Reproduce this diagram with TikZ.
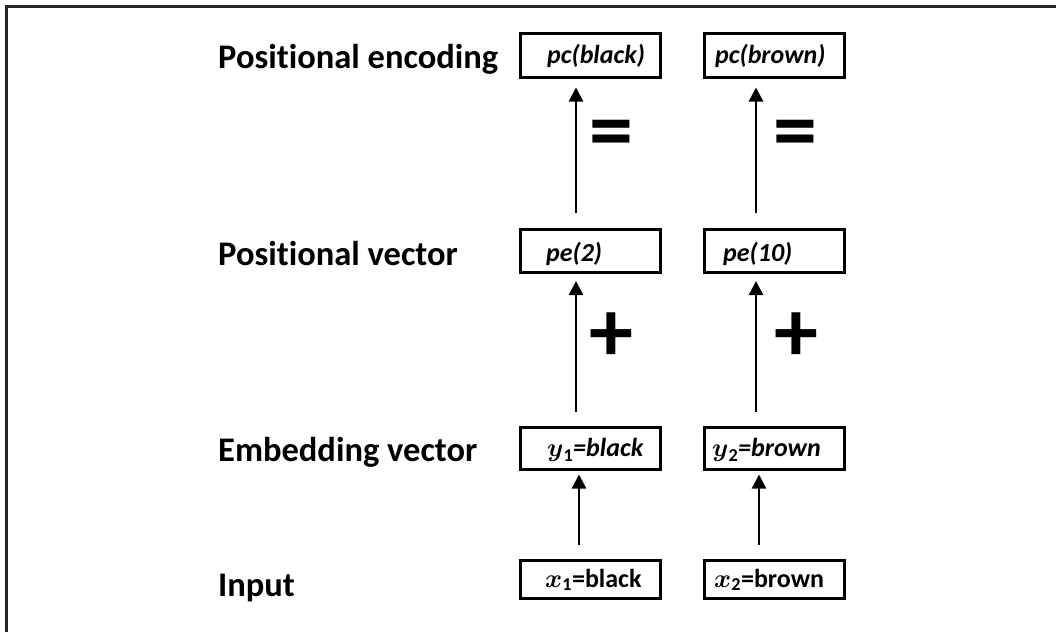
\RequirePackage{fix-cm}
\documentclass[tikz,border=0pt]{standalone}
\usepackage{amsmath}
\usepackage{fontspec}
\setmainfont{Carlito}[Ligatures=NoCommon]
\usetikzlibrary{arrows.meta}
\begin{document}
\begin{tikzpicture}[x=1pt, y=-1pt,
    box/.style={draw, line width=3pt, minimum width=140pt, inner sep=0pt},
    boxtext/.style={anchor=base west, inner sep=0pt, font=\fontsize{26}{30}\selectfont\bfseries\itshape},
    rowlabel/.style={anchor=base west, inner sep=0pt, font=\fontsize{34.5}{40}\selectfont\bfseries},
    op/.style={inner sep=0pt, font=\fontsize{88}{90}\selectfont\bfseries},
    up/.style={line width=2.5pt, -{Triangle[width=14pt, length=14pt]}}]
    \useasboundingbox (0,0) rectangle (1056,632);
    % only the top and left edges of the frame are in the shot
    \draw[line width=3pt, black!85] (6.5,632)--(6.5,6.5)--(1056,6.5);
    \def\xl{590}
    \def\xr{774}
    % row labels
    \node[rowlabel] (lblEnc) at (218,68) {Positional encoding};
    \node[rowlabel] (lblPos) at (218,265) {Positional vector};
    \node[rowlabel] (lblEmb) at (218,461) {Embedding vector};
    \node[rowlabel] (lblIn) at (218,596) {Input};
    % boxes
    \node[box, minimum height=44pt] (pcBlack) at (\xl,55) {};
    \node[box, minimum height=44pt] (pcBrown) at (\xr,55) {};
    \node[box, minimum height=43pt] (peTwo) at (\xl,251) {};
    \node[box, minimum height=43pt] (peTen) at (\xr,251) {};
    \node[box, minimum height=42pt] (yOne) at (\xl,448) {};
    \node[box, minimum height=42pt] (yTwo) at (\xr,448) {};
    \node[box, minimum height=38pt] (xOne) at (\xl,579) {};
    \node[box, minimum height=38pt] (xTwo) at (\xr,579) {};
    % what is written in the boxes
    \node[boxtext] (pcBlackT) at (547,63) {pc(black)};
    \node[boxtext] (pcBrownT) at (715,63) {pc(brown)};
    \node[boxtext] (peTwoT) at (546,261) {pe(2)};
    \node[boxtext] (peTenT) at (723,261) {pe(10)};
    \node[boxtext] (yOneT) at (547,456) {$\boldsymbol{y}_{\mathbf{1}}$=black};
    \node[boxtext] (yTwoT) at (712,456) {$\boldsymbol{y}_{\mathbf{2}}$=brown};
    \node[boxtext, font=\fontsize{26}{30}\selectfont\bfseries] (xOneT) at (545,587) {$\boldsymbol{x}_{\mathbf{1}}$=black};
    \node[boxtext, font=\fontsize{26}{30}\selectfont\bfseries] (xTwoT) at (714,587) {$\boldsymbol{x}_{\mathbf{2}}$=brown};
    % arrows, a little left of the box centres
    \draw[up, shorten <=15pt, shorten >=9pt] ([xshift=-14pt]peTwo.north) -- ([xshift=-14pt]pcBlack.south);
    \draw[up, shorten <=15pt, shorten >=9pt] ([xshift=-18pt]peTen.north) -- ([xshift=-18pt]pcBrown.south);
    \draw[up, shorten <=14pt, shorten >=7pt] ([xshift=-14pt]yOne.north) -- ([xshift=-14pt]peTwo.south);
    \draw[up, shorten <=14pt, shorten >=7pt] ([xshift=-18pt]yTwo.north) -- ([xshift=-18pt]peTen.south);
    \draw[up, shorten <=14pt, shorten >=4pt] ([xshift=-11pt]xOne.north) -- ([xshift=-11pt]yOne.south);
    \draw[up, shorten <=14pt, shorten >=4pt] ([xshift=-15pt]xTwo.north) -- ([xshift=-15pt]yTwo.south);
    % operators
    \node[op] (eqL) at (611,140) {=};
    \node[op] (eqR) at (795,140) {=};
    \node[op] (plusL) at (611,337) {+};
    \node[op] (plusR) at (796,337) {+};
\end{tikzpicture}
\end{document}
